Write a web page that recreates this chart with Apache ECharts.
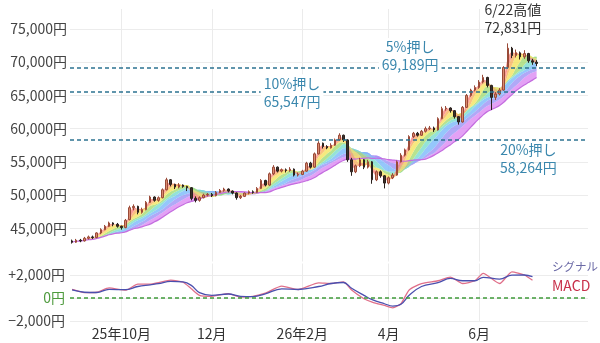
<!DOCTYPE html>
<html>
<head>
<meta charset="utf-8">
<script src="https://cdn.jsdelivr.net/npm/echarts@6/dist/echarts.min.js"></script>
<style>
  html, body { margin: 0; padding: 0; background: #fff; }
  #chart { width: 600px; height: 343px; }
</style>
</head>
<body>
<div id="chart"></div>
<script>
// 2営業日ごとの足 [始値, 終値, 安値, 高値]
var startDate = '2025-08-28';
var slotCount = 126;
var candles = [
  [43100,42900,42700,43300],[42900,43200,42800,43400],[43200,43100,42900,43400],[43100,43500,43000,43700],
  [43500,43700,43300,43900],[43700,43600,43400,43900],[43600,44300,43500,44400],[44300,44800,44100,45000],
  [44800,45300,44700,45500],[45300,45800,45200,46000],[45800,45600,45300,45900],[45600,45300,45100,45800],
  [45300,45100,44800,45400],[45100,46200,45000,46400],[46300,48100,46200,48400],[48100,48300,47700,48600],
  [48300,47400,47100,48400],[47400,47800,47200,48100],[47800,48900,47700,49100],[48900,49700,48800,49900],
  [49700,49200,49000,49800],[49200,49600,49000,49800],[49600,50800,49500,51000],[50800,52300,50700,52600],
  [52300,51600,51300,52400],[51600,51200,50900,51700],[51200,51500,51000,51800],[51500,51300,51100,51600],
  [51300,51100,50600,51400],[51100,49500,49200,51200],[49500,49200,48900,49800],[49200,49600,49000,49800],
  [49600,50000,49500,50200],[50000,50100,49800,50300],[50100,49900,49700,50300],[49900,50400,49800,50600],
  [50400,50700,50300,50900],[50700,50900,50500,51100],[50900,50600,50400,51000],[50600,50300,50100,50700],
  [50300,49600,49300,50400],[49600,49800,49400,50000],[49800,50300,49700,50400],[50300,50500,50100,50700],
  [50500,50400,50200,50700],[50400,51000,50300,51200],[51000,52200,50900,52400],[52200,51500,51300,52300],
  [51500,53200,51400,53400],[53200,54200,53000,54500],[54200,53600,53400,54300],[53600,53800,53400,54000],
  [53800,53700,53400,54000],[53700,53900,53500,54200],[53900,53000,52800,54000],[53000,53100,52800,53400],
  [53100,53600,53000,53800],[53600,54800,53500,55000],[54800,54200,54000,55000],[54200,56200,54100,56400],
  [56200,57800,56100,58100],[57800,57300,57000,57900],[57300,57100,56900,57500],[57100,57500,57000,57800],
  [57500,58300,57400,58500],[58300,59000,58200,59300],[59000,58300,58000,59100],[58300,55300,55000,58400],
  [55300,53500,52900,55600],[53500,54400,53300,54600],[54400,55300,54200,55600],[55300,54200,53900,55400],
  [54200,55000,54000,55300],[55000,52300,51700,55100],[52300,53500,52100,53700],[53500,52900,52600,53700],
  [52900,51800,51000,53000],[51800,52600,51600,52800],[52600,53000,52400,53300],[53000,55000,52900,55200],
  [55000,56000,54900,56300],[56000,56800,55800,57000],[56800,58800,56700,59000],[58800,59300,58600,59500],
  [59300,59000,58800,59500],[59000,59600,58900,59800],[59600,60000,59400,60300],[60000,60100,59800,60400],
  [60100,59800,59500,60300],[59800,61500,59700,61700],[61500,63000,61400,63300],[63000,63100,62700,63400],
  [63100,62700,62400,63200],[62700,61800,61500,62800],[61800,61000,60600,61900],[61000,63200,60900,63400],
  [63200,65000,63100,65200],[65000,65800,64800,66000],[65800,66200,65600,66500],[66200,67000,66000,67300],
  [67000,67700,66800,68100],[67700,66500,66200,67800],[66500,64700,62800,66600],[64700,65200,64300,65500],
  [65200,65800,65000,66100],[65800,69200,65700,69400],[69200,72100,69000,72831],[72100,71000,70600,72300],
  [71000,71400,70700,71900],[71400,70800,70400,71600],[70800,71300,70500,71800],[71300,70200,69900,71400],
  [70200,70000,69600,70500],[70000,69800,69400,70300]
];

// MACD・シグナル（足番号ごとの読み取り値）
var macdSlots   = [0,3,6,9,13,16,19,21,24,27,29,31,34,38,41,44,47,51,55,60,63,66,68,71,73,76,78,80,82,85,89,92,95,98,100,104,107,110,112];
var macdValues  = [740,470,500,880,680,1200,1200,1330,1560,1370,800,230,150,380,80,150,420,1030,740,1320,1260,1400,700,-60,-350,-650,-850,-500,700,1260,1500,1820,1260,1500,2140,1260,2280,2000,1550];
var signalValues= [700,500,480,750,720,1000,1150,1250,1450,1400,1100,470,230,350,150,120,350,800,740,1000,1260,1350,850,230,-150,-500,-700,-550,230,1000,1330,1700,1500,1500,1800,1640,1990,2000,1850];

// 虹色移動平均（足数）
var maPeriods = [20, 16, 13, 10, 8, 6, 4, 3, 2];
var bandColors = ['#dc8af2', '#9c93f5', '#7ab9fa', '#79dccd', '#a4dc74', '#f4e35e', '#f9b25e', '#f7837a'];

var levels = [
  { value: 69189, text: '5%押し\n69,189円', slot: 82, offset: [1, -11], bg: '#fff' },
  { value: 65547, text: '10%押し\n65,547円', slot: 54, offset: [-2, 1], bg: '#fff' },
  { value: 58264, text: '20%押し\n58,264円', slot: 111, offset: [0, 19], bg: null }
];
var peak = { slot: 106, value: 72831, text: '6/22高値\n72,831円' };

// 日付（1日おきの営業日）
var dates = [];
var d = new Date(startDate + 'T00:00:00');
var n = 0;
while (dates.length < slotCount) {
  var wd = d.getDay();
  if (wd !== 0 && wd !== 6) {
    if (n % 2 === 0) dates.push(d.getFullYear() + '/' + (d.getMonth() + 1) + '/' + d.getDate());
    n++;
  }
  d.setDate(d.getDate() + 1);
}
var monthLabels = {};
var monthSlots = [];
var lastYear = null;
for (var i = 1; i < candles.length; i++) {
  var p = dates[i].split('/'), q = dates[i - 1].split('/');
  if (p[1] !== q[1] && (+p[1]) % 2 === 0) {
    monthLabels[i] = (+p[0] !== lastYear ? (p[0] % 100) + '年' : '') + p[1] + '月';
    monthSlots.push(i);
    lastYear = +p[0];
  }
}

function yen(v) {
  return String(Math.abs(v)).replace(/\B(?=(\d{3})+(?!\d))/g, ',') + '円';
}

var closes = candles.map(function (c) { return c[1]; });
function ma(period) {
  return closes.map(function (c, i) {
    var s = 0, k = 0;
    for (var j = Math.max(0, i - period + 1); j <= i; j++) { s += closes[j]; k++; }
    return s / k;
  });
}
var mas = maPeriods.map(ma);

// 月の縦グリッド線
function monthLines() {
  return {
    silent: true, symbol: 'none', z: 0,
    lineStyle: { color: '#ebebeb', type: 'solid', width: 1 },
    label: { show: false },
    data: monthSlots.map(function (s) { return { xAxis: s }; })
  };
}

var series = [];
series.push({
  type: 'line', xAxisIndex: 0, yAxisIndex: 0, stack: 'rb', stackStrategy: 'all',
  data: mas[0], symbol: 'none', smooth: 0.3,
  lineStyle: { color: '#c46ddf', width: 1.2 }, z: 1,
  markLine: monthLines()
});
for (var b = 1; b < mas.length; b++) {
  (function (b) {
    series.push({
      type: 'line', xAxisIndex: 0, yAxisIndex: 0, stack: 'rb', stackStrategy: 'all',
      data: mas[b].map(function (v, i) { return v - mas[b - 1][i]; }),
      symbol: 'none', smooth: 0.3,
      lineStyle: { width: 0 },
      areaStyle: { color: bandColors[b - 1], opacity: 0.8 },
      z: 1
    });
  })(b);
}

var markPoints = levels.map(function (l) {
  return {
    coord: [l.slot, l.value], symbolSize: 1, itemStyle: { color: 'transparent' },
    label: {
      show: true, position: 'inside', formatter: l.text, offset: l.offset,
      color: '#3a87ad', fontSize: 14, lineHeight: 18,
      backgroundColor: l.bg || 'transparent', padding: [0, 3]
    }
  };
});
markPoints.push({
  coord: [peak.slot, peak.value], symbolSize: 1, itemStyle: { color: 'transparent' },
  label: {
    show: true, position: 'inside', formatter: peak.text, offset: [5, -24],
    color: '#333', fontSize: 14, lineHeight: 18
  }
});

series.push({
  type: 'candlestick', xAxisIndex: 0, yAxisIndex: 0,
  data: candles, barWidth: 2,
  itemStyle: {
    color: '#d98a6e', borderColor: '#9a4a38',
    color0: '#3a2e2a', borderColor0: '#2a201c', borderWidth: 1
  },
  z: 3,
  markLine: {
    silent: true, symbol: 'none',
    lineStyle: { color: '#2d7391', type: [4, 3], width: 1.5 },
    label: { show: false },
    data: levels.map(function (l) { return { yAxis: l.value }; })
  },
  markPoint: { silent: true, data: markPoints }
});

series.push({
  name: 'シグナル', type: 'line', xAxisIndex: 1, yAxisIndex: 1,
  data: macdSlots.map(function (s, i) { return [s, signalValues[i]]; }),
  symbol: 'none', smooth: 0.4, lineStyle: { color: '#4a4fae', width: 1.3 }, z: 3,
  markLine: {
    silent: true, symbol: 'none',
    lineStyle: { color: '#3f9a3a', type: [4, 3], width: 1.5 },
    label: { show: false },
    data: [{ yAxis: 0 }]
  }
});
series.push({
  name: 'MACD', type: 'line', xAxisIndex: 1, yAxisIndex: 1,
  data: macdSlots.map(function (s, i) { return [s, macdValues[i]]; }),
  symbol: 'none', smooth: 0.2, lineStyle: { color: '#e0708a', width: 1.3 }, z: 2,
  markLine: monthLines()
});

var font = '"Noto Sans CJK JP", "Noto Sans", sans-serif';

var chart = echarts.init(document.getElementById('chart'));
chart.setOption({
  animation: false,
  textStyle: { fontFamily: font },
  legend: {
    left: 542, top: 256, orient: 'vertical', itemGap: 6, align: 'left',
    itemWidth: 0, itemHeight: 0, icon: 'rect',
    textStyle: { fontSize: 14, fontFamily: font },
    data: [
      { name: 'シグナル', textStyle: { color: '#6b6aa6', fontSize: 11.5 } },
      { name: 'MACD', textStyle: { color: '#c8304a', fontSize: 14 } }
    ]
  },
  grid: [
    { left: 70, right: 12, top: 9, bottom: 81.5 },
    { left: 70, right: 12, top: 263.5, bottom: 22 }
  ],
  xAxis: [
    {
      type: 'category', gridIndex: 0, data: dates, boundaryGap: true,
      axisLine: { show: false }, axisTick: { show: false }, axisLabel: { show: false },
      splitLine: { show: false }
    },
    {
      type: 'category', gridIndex: 1, data: dates, boundaryGap: true,
      axisLine: { show: false }, axisTick: { show: false },
      axisLabel: {
        interval: function (idx) { return monthLabels[idx] !== undefined; },
        margin: 6, fontSize: 14, color: '#333', fontFamily: font,
        formatter: function (v, idx) { return monthLabels[idx] || ''; }
      },
      splitLine: { show: false }
    }
  ],
  yAxis: [
    {
      type: 'value', gridIndex: 0, min: 40000, max: 78000, interval: 5000,
      axisLine: { show: false }, axisTick: { show: false },
      axisLabel: {
        margin: 3, fontSize: 14, color: '#444', fontFamily: font,
        formatter: function (v) { return (v % 5000 === 0 && v >= 45000) ? yen(v) : ''; }
      },
      splitLine: { show: true, showMinLine: false, showMaxLine: false, lineStyle: { color: '#ececec' } }
    },
    {
      type: 'value', gridIndex: 1, min: -2000, max: 3000, interval: 2000,
      axisLine: { show: false }, axisTick: { show: false },
      axisLabel: {
        margin: 5, fontSize: 14, fontFamily: font,
        color: function (v) { return +v === 0 ? '#4d9a3c' : '#444'; },
        formatter: function (v) {
          if (v > 2000) return '';
          if (v > 0) return '+' + yen(v);
          if (v < 0) return '\u2212' + yen(v);
          return '0円';
        }
      },
      splitLine: { show: true, showMaxLine: false, lineStyle: { color: '#ececec' } }
    }
  ],
  series: series
});
</script>
</body>
</html>
